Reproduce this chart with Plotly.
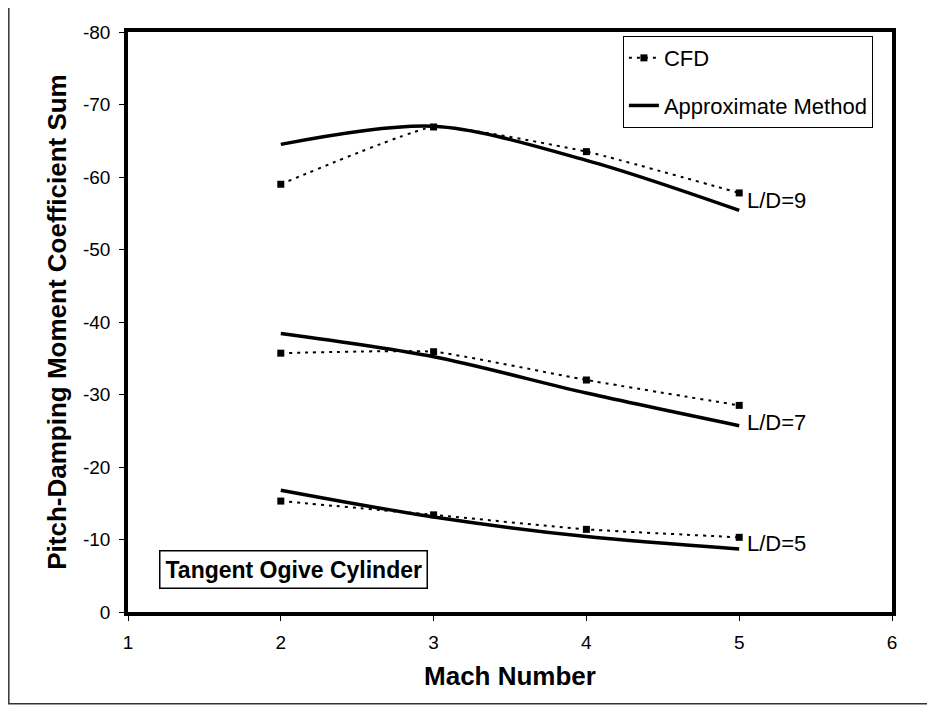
import plotly.graph_objects as go

# data
mach = [2, 3, 4, 5]
ld_labels = ["L/D=9", "L/D=7", "L/D=5"]
cfd_9 = [-59.0, -66.9, -63.5, -57.8]
apx_9 = [-64.5, -67.0, -62.3, -55.4]
cfd_7 = [-35.7, -35.9, -32.0, -28.5]
apx_7 = [-38.4, -35.2, -30.2, -25.7]
cfd_5 = [-15.3, -13.4, -11.4, -10.3]
apx_5 = [-16.8, -13.1, -10.4, -8.7]
label_y = [-56.8, -26.2, -9.5]

y_ticks = [0, -10, -20, -30, -40, -50, -60, -70, -80]
x_ticks = [1, 2, 3, 4, 5, 6]

cfd_sets = [cfd_9, cfd_7, cfd_5]
apx_sets = [apx_9, apx_7, apx_5]

FONT = "Liberation Sans, Arial, sans-serif"

fig = go.Figure()

for i in range(3):
    # CFD: dotted with square markers
    fig.add_trace(go.Scatter(
        x=mach, y=cfd_sets[i],
        mode="lines+markers",
        name="CFD",
        legendgroup="cfd",
        showlegend=(i == 0),
        line=dict(color="black", width=2, dash="3px,5px", shape="spline", smoothing=0.4),
        marker=dict(symbol="square", size=7, color="black"),
    ))
    # approximate method: thick solid smoothed line
    fig.add_trace(go.Scatter(
        x=mach, y=apx_sets[i],
        mode="lines",
        name="Approximate Method",
        legendgroup="apx",
        showlegend=(i == 0),
        line=dict(color="black", width=3.5, shape="spline", smoothing=0.9),
    ))
    fig.add_annotation(
        x=5.04, y=label_y[i], text=ld_labels[i],
        showarrow=False, xanchor="left", yanchor="middle",
        font=dict(family=FONT, size=22, color="black"),
    )

fig.add_annotation(
    x=0.217, y=0.074, xref="paper", yref="paper",
    xanchor="center", yanchor="middle",
    text="<b>Tangent Ogive Cylinder</b>",
    showarrow=False,
    font=dict(family=FONT, size=23, color="black"),
    bordercolor="black", borderwidth=1.5, borderpad=5,
    bgcolor="white",
)

# outer frame of the scanned figure
fig.add_shape(
    type="rect", xref="paper", yref="paper",
    x0=-0.156, x1=1.07, y0=-0.158, y1=1.052,
    line=dict(color="#333333", width=1.5),
)

fig.update_layout(
    width=927,
    height=698,
    paper_bgcolor="white",
    plot_bgcolor="white",
    margin=dict(l=120, r=43, t=24, b=94),
    font=dict(family=FONT, color="black"),
    xaxis=dict(
        range=[1, 6],
        tickvals=x_ticks,
        ticktext=[str(v) for v in x_ticks],
        showgrid=False, zeroline=False,
        showline=True, linecolor="black", linewidth=3.5, mirror=True,
        ticks="outside", ticklen=5, tickcolor="black",
        ticklabelstandoff=5,
        tickfont=dict(size=19),
        title=dict(text="<b>Mach Number</b>", font=dict(size=26), standoff=16),
    ),
    yaxis=dict(
        range=[0, -80],
        tickvals=y_ticks,
        ticktext=[str(v) for v in y_ticks],
        showgrid=False, zeroline=False,
        showline=True, linecolor="black", linewidth=3.5, mirror=True,
        ticks="outside", ticklen=5, tickcolor="black",
        ticklabelstandoff=5,
        tickfont=dict(size=19),
        title=dict(text="<b>Pitch-Damping Moment Coefficient Sum</b>", font=dict(size=26), standoff=10),
    ),
    legend=dict(
        x=0.975, xanchor="right",
        y=0.993, yanchor="top",
        bgcolor="white",
        bordercolor="black", borderwidth=1,
        font=dict(size=22),
        traceorder="grouped",
        tracegroupgap=16,
    ),
    showlegend=True,
)

fig.write_html("out.html")
